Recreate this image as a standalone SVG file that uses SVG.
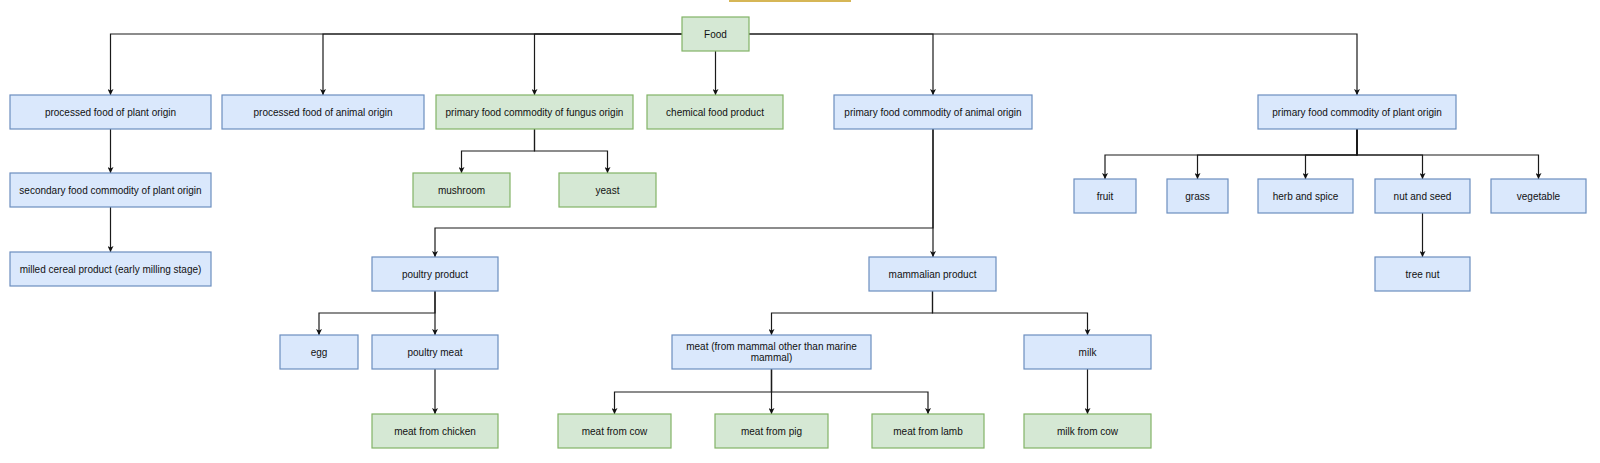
<svg xmlns="http://www.w3.org/2000/svg" width="1600" height="463" viewBox="0 0 1600 463">
<style>
.b{fill:#dae8fc;stroke:#6c8ebf;stroke-width:1.2}
.g{fill:#d5e8d4;stroke:#82b366;stroke-width:1.2}
text{font-family:"Liberation Sans",Arial,sans-serif;font-size:10px;fill:#111;text-anchor:middle}
.e{fill:none;stroke:#1a1a1a;stroke-width:1.2;marker-end:url(#ar)}
</style>
<defs>
<marker id="ar" viewBox="0 0 8 8" refX="8" refY="4" markerWidth="6" markerHeight="6" markerUnits="userSpaceOnUse" orient="auto"><path d="M0,0 L8,4 L0,8 L2,4 Z" fill="#111"/></marker>
</defs>
<rect x="730" y="-30" width="120" height="31" fill="#fff2cc" stroke="#d6b656" stroke-width="2"/>
<g id="connectors">
<path class="e" d="M682,34 H110.5 V95"/>
<path class="e" d="M682,34 H323 V95"/>
<path class="e" d="M682,34 H534.5 V95"/>
<path class="e" d="M715.5,51 V95"/>
<path class="e" d="M749,34 H933 V95"/>
<path class="e" d="M749,34 H1357 V95"/>
<path class="e" d="M110.5,129 V173"/>
<path class="e" d="M110.5,207 V252"/>
<path class="e" d="M534.5,129 V151 H461.5 V173"/>
<path class="e" d="M534.5,129 V151 H607.5 V173"/>
<path class="e" d="M933,129 V228 H435 V257"/>
<path class="e" d="M933,129 V257"/>
<path class="e" d="M435,291 V313 H319 V335"/>
<path class="e" d="M435,291 V335"/>
<path class="e" d="M435,369 V414"/>
<path class="e" d="M932.5,291 V313 H771.5 V335"/>
<path class="e" d="M932.5,291 V313 H1087.5 V335"/>
<path class="e" d="M771.5,369 V392 H614.5 V414"/>
<path class="e" d="M771.5,369 V414"/>
<path class="e" d="M771.5,369 V392 H928 V414"/>
<path class="e" d="M1087.5,369 V414"/>
<path class="e" d="M1357,129 V155 H1105 V179"/>
<path class="e" d="M1357,129 V155 H1197.5 V179"/>
<path class="e" d="M1357,129 V155 H1305.5 V179"/>
<path class="e" d="M1357,129 V155 H1422.5 V179"/>
<path class="e" d="M1357,129 V155 H1538.5 V179"/>
<path class="e" d="M1422.5,213 V257"/>
</g>
<g id="food"><rect class="g" x="682" y="17" width="67" height="34"/><text x="715.5" y="37.5">Food</text></g>
<g id="processed-plant"><rect class="b" x="10" y="95" width="201" height="34"/><text x="110.5" y="115.5">processed food of plant origin</text></g>
<g id="processed-animal"><rect class="b" x="222" y="95" width="202" height="34"/><text x="323" y="115.5">processed food of animal origin</text></g>
<g id="fungus"><rect class="g" x="436" y="95" width="197" height="34"/><text x="534.5" y="115.5">primary food commodity of fungus origin</text></g>
<g id="chemical"><rect class="g" x="647" y="95" width="136" height="34"/><text x="715" y="115.5">chemical food product</text></g>
<g id="animal-origin"><rect class="b" x="834" y="95" width="198" height="34"/><text x="933" y="115.5">primary food commodity of animal origin</text></g>
<g id="plant-origin"><rect class="b" x="1258" y="95" width="198" height="34"/><text x="1357" y="115.5">primary food commodity of plant origin</text></g>
<g id="secondary"><rect class="b" x="10" y="173" width="201" height="34"/><text x="110.5" y="193.5">secondary food commodity of plant origin</text></g>
<g id="milled"><rect class="b" x="10" y="252" width="201" height="34"/><text x="110.5" y="272.5">milled cereal product (early milling stage)</text></g>
<g id="mushroom"><rect class="g" x="413" y="173" width="97" height="34"/><text x="461.5" y="193.5">mushroom</text></g>
<g id="yeast"><rect class="g" x="559" y="173" width="97" height="34"/><text x="607.5" y="193.5">yeast</text></g>
<g id="fruit"><rect class="b" x="1074" y="179" width="62" height="34"/><text x="1105" y="199.5">fruit</text></g>
<g id="grass"><rect class="b" x="1167" y="179" width="61" height="34"/><text x="1197.5" y="199.5">grass</text></g>
<g id="herb"><rect class="b" x="1258" y="179" width="95" height="34"/><text x="1305.5" y="199.5">herb and spice</text></g>
<g id="nut"><rect class="b" x="1375" y="179" width="95" height="34"/><text x="1422.5" y="199.5">nut and seed</text></g>
<g id="vegetable"><rect class="b" x="1491" y="179" width="95" height="34"/><text x="1538.5" y="199.5">vegetable</text></g>
<g id="tree-nut"><rect class="b" x="1375" y="257" width="95" height="34"/><text x="1422.5" y="277.5">tree nut</text></g>
<g id="poultry-product"><rect class="b" x="372" y="257" width="126" height="34"/><text x="435" y="277.5">poultry product</text></g>
<g id="mammalian"><rect class="b" x="869" y="257" width="127" height="34"/><text x="932.5" y="277.5">mammalian product</text></g>
<g id="egg"><rect class="b" x="280" y="335" width="78" height="34"/><text x="319" y="355.5">egg</text></g>
<g id="poultry-meat"><rect class="b" x="372" y="335" width="126" height="34"/><text x="435" y="355.5">poultry meat</text></g>
<g id="meat-mammal"><rect class="b" x="672" y="335" width="199" height="34"/><text x="771.5" y="349.5">meat (from mammal other than marine</text><text x="771.5" y="361">mammal)</text></g>
<g id="milk"><rect class="b" x="1024" y="335" width="127" height="34"/><text x="1087.5" y="355.5">milk</text></g>
<g id="chicken"><rect class="g" x="372" y="414" width="126" height="34"/><text x="435" y="434.5">meat from chicken</text></g>
<g id="cow"><rect class="g" x="558" y="414" width="113" height="34"/><text x="614.5" y="434.5">meat from cow</text></g>
<g id="pig"><rect class="g" x="715" y="414" width="113" height="34"/><text x="771.5" y="434.5">meat from pig</text></g>
<g id="lamb"><rect class="g" x="872" y="414" width="112" height="34"/><text x="928" y="434.5">meat from lamb</text></g>
<g id="milk-cow"><rect class="g" x="1024" y="414" width="127" height="34"/><text x="1087.5" y="434.5">milk from cow</text></g>
</svg>
